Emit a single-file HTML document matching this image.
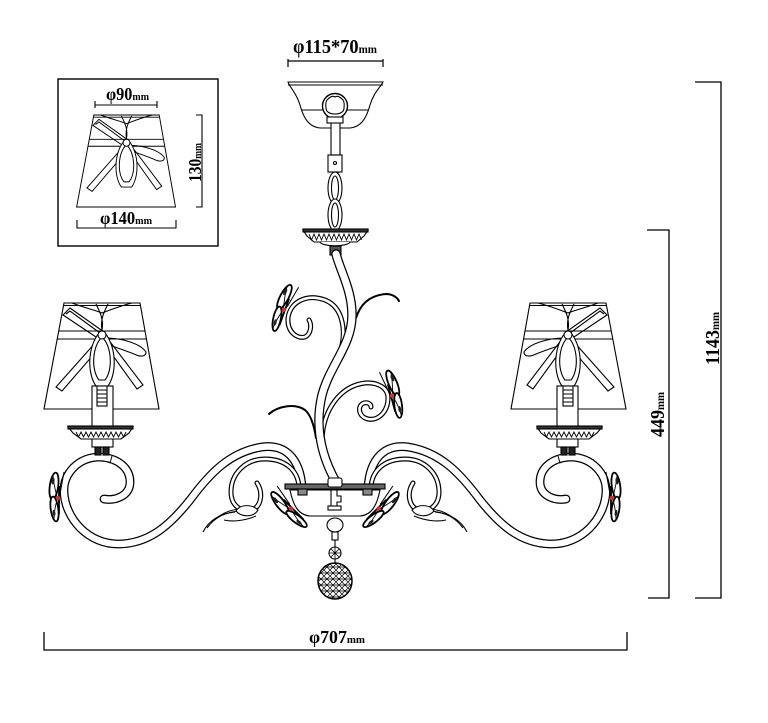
<!DOCTYPE html>
<html><head><meta charset="utf-8"><style>
html,body{margin:0;padding:0;background:#fff;}
svg{display:block;}
text{font-family:"Liberation Serif","DejaVu Serif",serif;font-weight:bold;fill:#000;}
</style></head><body>
<svg width="768" height="723" viewBox="0 0 768 723" xmlns="http://www.w3.org/2000/svg">
<defs>
<pattern id="lat" width="6" height="6" patternUnits="userSpaceOnUse"><path d="M0,0 L6,6 M6,0 L0,6 M0,3 L6,3" stroke="#000" stroke-width="0.7"/></pattern>
<g id="shade" stroke="#000" stroke-width="1.1" fill="none">
 <polygon points="64,303 140,303 159,409 44,409" fill="#fff"/>
 <line x1="64" y1="305.5" x2="140" y2="305.5"/>
 <line x1="58.7" y1="331" x2="145.1" y2="331"/>
 <line x1="57.2" y1="339" x2="146.6" y2="339"/>
 <path d="M63,315 L70,308 L104,332 L99,339 Z"/>
 <path d="M66,314 L70,311 L100,333"/>
 <path d="M96,342 L101,346 L62,391 L56,387 Z"/>
 <path d="M106,338 C120,338 140,343 146,352 C146,357 140,357 134,354 C124,350 112,346 106,344 Z"/>
 <path d="M106,346 L111,343 L143,385 L137,389 Z"/>
 <path d="M72,303 C85,308 95,310 102,313 C110,310 120,306 132,303"/>
 <path d="M96,304 C100,312 104,320 102,330 M108,304 C104,312 100,320 102,330"/>
 <path d="M102,330 C88,342 86,372 96,386 L108,386 C118,372 116,342 102,330 Z" fill="#fff"/>
 <path d="M102,337 C92,347 91,370 99,380 L105,380 C113,370 112,347 102,337 Z"/>
 <circle cx="102" cy="335" r="4" fill="#fff"/>
</g>
<g id="bf">
 <ellipse cx="-5" cy="-12" rx="4.2" ry="13.5" transform="rotate(8 -5 -12)" fill="#fff" stroke="#000" stroke-width="1.8"/>
 <path d="M-2,-1 C-4,-9 -6,-17 -6,-23" stroke="#000" stroke-width="0.9" fill="none"/>
 <ellipse cx="-6" cy="-17" rx="1.5" ry="3.5" fill="#222" transform="rotate(8 -6 -17)"/>
 <ellipse cx="-4.5" cy="11" rx="3.8" ry="12.5" transform="rotate(-8 -4.5 11)" fill="#fff" stroke="#000" stroke-width="1.8"/>
 <path d="M-2,2 C-4,9 -5,16 -5,21" stroke="#000" stroke-width="0.9" fill="none"/>
 <ellipse cx="-5" cy="15" rx="1.4" ry="3.2" fill="#222" transform="rotate(-8 -5 15)"/>
 <line x1="0" y1="-12" x2="0" y2="16" stroke="#000" stroke-width="1.8"/>
 <circle cx="-1" cy="0" r="2.2" fill="#c33"/>
 <line x1="1" y1="-4" x2="5" y2="-26" stroke="#000" stroke-width="1"/>
</g>
</defs>

<!-- ===== top dimension & canopy ===== -->
<g stroke="#000" stroke-width="1.2" fill="none">
 <path d="M288,67 V59 M288,61 H383 M383,59 V67"/>
</g>
<text x="293" y="53" font-size="20" textLength="84" lengthAdjust="spacingAndGlyphs">φ115*70<tspan font-size="12">mm</tspan></text>

<g stroke="#000" stroke-width="1.1" fill="#fff">
 <path d="M288,82 L383,82 C380,88 374,92 370,105 C366,120 360,127 350,128 L320,128 C310,127 304,120 300,105 C296,92 290,88 288,82 Z"/>
 <line x1="288" y1="85" x2="383" y2="85"/>
 <line x1="302" y1="110" x2="369" y2="110"/>
 <rect x="331" y="120" width="9" height="35"/>
 <circle cx="335" cy="106" r="12.5" stroke-width="1.4"/>
 <path d="M335,97 C338,95 341,98 343,100 C345,103 344,106 344,108 C344,112 340,114 335,114 C330,114 326,112 326,108 C326,106 325,103 327,100 C329,98 332,95 335,97 Z"/>
 <rect x="327" y="117" width="16" height="6"/>
 <rect x="333" y="170" width="5" height="62"/>
 <ellipse cx="335" cy="188" rx="7" ry="16"/>
 <ellipse cx="335" cy="188" rx="3.5" ry="12"/>
 <ellipse cx="335" cy="215" rx="7" ry="16"/>
 <ellipse cx="335" cy="215" rx="3.5" ry="12"/>
 <rect x="328" y="155" width="14" height="17"/>
 <circle cx="335" cy="163" r="1.5"/>
 <path d="M303,230 L368,230 L364,236 L357,242 L314,242 L307,236 Z"/>
 <rect x="303" y="229" width="65" height="3" fill="#333"/>
 <polyline fill="none" stroke-width="0.9" points="309,234 311.5,240 314,234 316.5,240 319,234 321.5,240 324,234 326.5,240 329,234 331.5,240 334,234 336.5,240 339,234 341.5,240 344,234 346.5,240 349,234 351.5,240 354,234 356.5,240 359,234 361.5,240"/>
 <path d="M320,242 C322,247 348,247 350,242"/>
 <rect x="330" y="246" width="11" height="9" fill="#555"/>
</g>

<!-- ===== inset box ===== -->
<rect x="58" y="79" width="160" height="167" fill="none" stroke="#000" stroke-width="1.4"/>
<use href="#shade" transform="matrix(0.86,0,0,0.868,38.78,-148)"/>
<g stroke="#000" stroke-width="1.1" fill="none">
 <path d="M95,101 V108 M95,105 H157 M157,101 V108"/>
 <path d="M77,220 V228 H176 V220"/>
 <path d="M196,115 H202 V207 H196"/>
</g>
<text x="106" y="100" font-size="18" textLength="43" lengthAdjust="spacingAndGlyphs">φ90<tspan font-size="11">mm</tspan></text>
<text x="100" y="224" font-size="18" textLength="52" lengthAdjust="spacingAndGlyphs">φ140<tspan font-size="11">mm</tspan></text>
<text transform="translate(201,182) rotate(-90)" font-size="18" textLength="39" lengthAdjust="spacingAndGlyphs">130<tspan font-size="11">mm</tspan></text>

<!-- ===== right dimensions ===== -->
<g stroke="#000" stroke-width="1.3" fill="none">
 <path d="M695,82 H721 V598 H695"/>
 <path d="M647,230 H669 V598 H648"/>
 <path d="M44,632 V650 H627 V632"/>
</g>
<text transform="translate(664,437) rotate(-90)" font-size="20" textLength="45" lengthAdjust="spacingAndGlyphs">449<tspan font-size="12">mm</tspan></text>
<text transform="translate(719,365) rotate(-90)" font-size="20" textLength="53" lengthAdjust="spacingAndGlyphs">1143<tspan font-size="12">mm</tspan></text>
<text x="309" y="643" font-size="18" textLength="56" lengthAdjust="spacingAndGlyphs">φ707<tspan font-size="11">mm</tspan></text>

<!-- ===== central stem & tendrils ===== -->
<g fill="none" stroke-linecap="round">
 <path d="M340,352 C346,335 345,308 325,300 C305,293 290,303 288,318 C287,332 297,339 305,337 C311,334 312,325 309,320" stroke="#000" stroke-width="5"/>
 <path d="M340,352 C346,335 345,308 325,300 C305,293 290,303 288,318 C287,332 297,339 305,337 C311,334 312,325 309,320" stroke="#fff" stroke-width="2.6"/>
 <path d="M322,440 C323,410 340,386 365,383 C378,382 388,388 388,398 C388,412 378,421 368,419 C358,417 357,405 364,403 C368,402 371,404 371,407" stroke="#000" stroke-width="5"/>
 <path d="M322,440 C323,410 340,386 365,383 C378,382 388,388 388,398 C388,412 378,421 368,419 C358,417 357,405 364,403 C368,402 371,404 371,407" stroke="#fff" stroke-width="2.6"/>
 <path d="M356,318 C361,302 372,295 386,294 C392,294 397,297 399,301" stroke="#000" stroke-width="2"/>
 <path d="M269,414 C278,406 295,403 305,410 C311,415 314,425 316,438" stroke="#000" stroke-width="2"/>
 <path d="M336,254 C340,270 352,290 352,315 C352,345 330,365 322,395 C316,420 318,450 336,482" stroke="#000" stroke-width="9.5"/>
 <path d="M336,254 C340,270 352,290 352,315 C352,345 330,365 322,395 C316,420 318,450 336,482" stroke="#fff" stroke-width="7"/>
</g>
<use href="#bf" transform="translate(285,310) rotate(20)"/>
<use href="#bf" transform="translate(391,396) scale(-1,1) rotate(15)"/>

<!-- ===== left arm group ===== -->
<g id="armL">
 <g fill="none" stroke-linecap="round">
  <path d="M104,499 C115,501 130,496 130,482 C130,468 118,458 100,457 C78,457 63,474 64,492 C65,518 88,545 120,544 C150,543 170,525 190,500 C210,473 230,452 262,447 C285,444 300,458 302,487" stroke="#000" stroke-width="8.8"/>
  <path d="M104,499 C115,501 130,496 130,482 C130,468 118,458 100,457 C78,457 63,474 64,492 C65,518 88,545 120,544 C150,543 170,525 190,500 C210,473 230,452 262,447 C285,444 300,458 302,487" stroke="#fff" stroke-width="6.3"/>
  <path d="M299,487 C298,470 285,459 265,459 C245,459 231,474 231,492 C231,506 242,513 252,510 C262,506 263,492 257,483" stroke="#000" stroke-width="5"/>
  <path d="M299,487 C298,470 285,459 265,459 C245,459 231,474 231,492 C231,506 242,513 252,510 C262,506 263,492 257,483" stroke="#fff" stroke-width="2.6"/>
  <line x1="112" y1="456" x2="110" y2="463" stroke="#000" stroke-width="1"/>
 </g>
 <g fill="none" stroke="#000" stroke-width="1.1">
  <path d="M203,532 C208,522 218,514 235,512"/>
  <path d="M207,528 C214,518 224,512 240,511"/>
  <path d="M212,522 C220,514 230,509 243,509"/>
  <path d="M224,520 C232,522 244,521 256,516"/>
  <path d="M236,511 C240,504 252,504 258,510 C254,517 242,518 236,511 Z" fill="#fff"/>
 </g>
 <use href="#shade"/>
 <g stroke="#000" stroke-width="1.1" fill="#fff">
  <rect x="92" y="386" width="21" height="61"/>
  <rect x="97" y="386" width="10" height="20"/>
  <path d="M97,390 H107 M97,394 H107 M97,398 H107 M97,402 H107" fill="none"/>
  <path d="M68,427 L133,427 L129,433 L121,439 L81,439 L73,433 Z"/>
  <rect x="68" y="426" width="65" height="3" fill="#333"/>
  <polyline fill="none" stroke-width="0.9" points="76,432 78.5,437 81,432 83.5,437 86,432 88.5,437 91,432 93.5,437 96,432 98.5,437 101,432 103.5,437 106,432 108.5,437 111,432 113.5,437 116,432 118.5,437 121,432 123.5,437 126,432"/>
  <rect x="95" y="447" width="6" height="8" fill="#222"/>
  <rect x="103" y="447" width="6" height="8" fill="#222"/>
  <rect x="298" y="489" width="9" height="6" fill="#888"/>
 </g>
 <use href="#bf" transform="translate(59,498)"/>
 <use href="#bf" transform="translate(292,508) rotate(-45)"/>
</g>
<use href="#armL" transform="translate(670,0) scale(-1,1)"/>

<!-- ===== central plate, bowl, pendant ===== -->
<g stroke="#000" stroke-width="1.1" fill="#fff">
 <path d="M290,490 C293,505 298,515 310,516 L360,516 C372,515 377,505 380,490 Z"/>
 <rect x="285" y="484" width="100" height="5" fill="#666"/>
 <rect x="298" y="489" width="9" height="6" fill="#888"/>
 <rect x="363" y="489" width="9" height="6" fill="#888"/>
 <rect x="328" y="478" width="14" height="9" rx="2"/>
 <path d="M331,489 L331,507 M337,489 L337,496 L341,496 L341,502 L337,502 L337,507" fill="none"/>
 <rect x="328" y="506" width="13" height="4"/>
 <ellipse cx="335" cy="525" rx="8" ry="7"/>
 <rect x="332" y="532" width="6" height="8"/>
 <line x1="335" y1="540" x2="335" y2="547"/>
 <circle cx="335" cy="553" r="6"/>
 <path d="M329,553 H341 M335,547 V559 M331,549 L339,557 M339,549 L331,557" fill="none" stroke-width="0.8"/>
 <line x1="335" y1="559" x2="335" y2="564"/>
 <ellipse cx="335" cy="581" rx="17" ry="18" fill="url(#lat)" stroke-width="1.5"/>
</g>
</svg>
</body></html>
